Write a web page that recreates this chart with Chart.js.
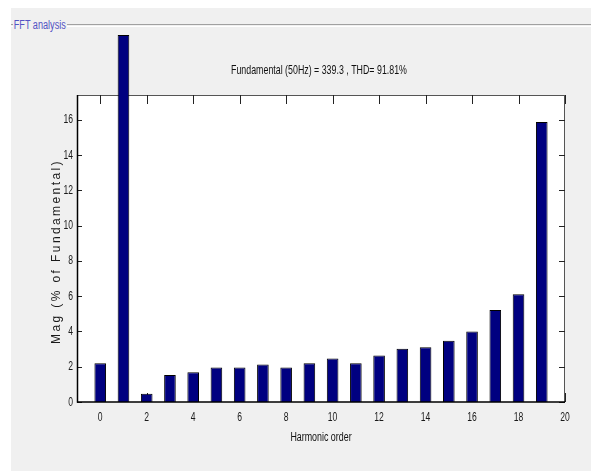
<!DOCTYPE html>
<html>
<head>
<meta charset="utf-8">
<script src="https://cdn.jsdelivr.net/npm/chart.js@4.4.1/dist/chart.umd.min.js"></script>
<style>
  html, body { margin: 0; padding: 0; background: #fff; }
  #wrap { position: relative; width: 591px; height: 471px; overflow: hidden; }
  #panel { position: absolute; left: 11px; top: 8px; width: 580px; height: 463px; background: #f0f0f0; }
  #rule { position: absolute; left: 11px; top: 24px; width: 580px; height: 1px; border-top: 1px solid #a0a0a0; border-bottom: 1px solid #fff; }
  #legend { position: absolute; left: 13px; top: 18px; padding: 0 2px 0 1px; background: #f0f0f0; color: #5252c4;
            font: 12px 'Liberation Sans', Arial, sans-serif; line-height: 14px;
            transform: scaleX(0.76); transform-origin: left center; }
  #c { position: absolute; left: 0; top: 0; }
</style>
</head>
<body>
<div id="wrap">
  <div id="panel"></div>
  <div id="rule"></div>
  <div id="legend">FFT analysis</div>
  <canvas id="c" width="591" height="471"></canvas>
</div>
<script>
// harmonic order and magnitude (% of fundamental)
const harmonics = [0, 1, 2, 3, 4, 5, 6, 7, 8, 9, 10, 11, 12, 13, 14, 15, 16, 17, 18, 19];
const magnitude = [2.19, 20.8, 0.47, 1.53, 1.68, 1.96, 1.96, 2.13, 1.96, 2.19,
                   2.47, 2.19, 2.64, 3.02, 3.10, 3.47, 3.99, 5.21, 6.10, 15.87];
const xTicks = [0, 2, 4, 6, 8, 10, 12, 14, 16, 18, 20];
const yTicks = [0, 2, 4, 6, 8, 10, 12, 14, 16];
const titleText = 'Fundamental (50Hz) = 339.3 , THD= 91.81%';
const xLabel = 'Harmonic order';
const yLabel = 'Mag (% of Fundamental)';

const sans = "'Liberation Sans', Arial, sans-serif";

// no narrow font installed, so squeeze regular text sideways
function narrowText(ctx, text, x, y, sx, align) {
    ctx.save();
    ctx.translate(x, y);
    ctx.scale(sx, 1);
    ctx.textAlign = align;
    ctx.fillText(text, 0, 0);
    ctx.restore();
}

// white axes box, frame, inward tick marks and labels like matlab
const axesBox = {
    id: 'axesBox',
    beforeDraw(chart) {
        const a = chart.chartArea, ctx = chart.ctx;
        ctx.save();
        ctx.fillStyle = '#fff';
        ctx.fillRect(a.left, a.top, a.right - a.left, a.bottom - a.top);
        ctx.restore();
    },
    beforeDatasetsDraw(chart) {
        const a = chart.chartArea, ctx = chart.ctx;
        const xs = chart.scales.x, ys = chart.scales.y;
        ctx.save();
        ctx.lineWidth = 1;
        ctx.strokeStyle = '#555';
        ctx.beginPath();
        ctx.moveTo(a.left, a.top + 0.5); ctx.lineTo(a.right, a.top + 0.5);
        ctx.moveTo(a.right - 0.5, a.top); ctx.lineTo(a.right - 0.5, a.bottom);
        ctx.stroke();
        ctx.strokeStyle = '#222';
        xs.ticks.forEach(t => {
            const px = Math.round(xs.getPixelForValue(t.value)) + 0.5;
            ctx.beginPath();
            ctx.moveTo(px, a.bottom); ctx.lineTo(px, a.bottom - 9);
            ctx.moveTo(px, a.top); ctx.lineTo(px, a.top + 9);
            ctx.stroke();
        });
        ys.ticks.forEach(t => {
            const py = Math.round(ys.getPixelForValue(t.value)) + 0.5;
            ctx.beginPath();
            ctx.moveTo(a.left, py); ctx.lineTo(a.left + 5, py);
            ctx.moveTo(a.right, py); ctx.lineTo(a.right - 6, py);
            ctx.stroke();
        });
        ctx.restore();
    },
    afterDatasetsDraw(chart) {
        const a = chart.chartArea, ctx = chart.ctx;
        ctx.save();
        ctx.lineWidth = 1.5;
        ctx.strokeStyle = '#000';
        ctx.beginPath();
        ctx.moveTo(a.left + 0.5, a.top); ctx.lineTo(a.left + 0.5, a.bottom);
        ctx.lineTo(a.right, a.bottom);
        ctx.stroke();
        ctx.restore();
    },
    afterDraw(chart) {
        const a = chart.chartArea, ctx = chart.ctx;
        const xs = chart.scales.x, ys = chart.scales.y;
        const cx = (a.left + a.right) / 2;
        ctx.save();
        ctx.fillStyle = '#1a1a1a';
        ctx.textBaseline = 'middle';
        ctx.font = '13px ' + sans;
        xs.ticks.forEach(t => narrowText(ctx, String(t.value), xs.getPixelForValue(t.value), a.bottom + 15, 0.66, 'center'));
        ys.ticks.forEach(t => narrowText(ctx, String(t.value), a.left - 4, ys.getPixelForValue(t.value), 0.66, 'right'));
        ctx.font = '13px ' + sans;
        ctx.fillStyle = '#111';
        narrowText(ctx, titleText, cx - 2, a.top - 25, 0.68, 'center');
        ctx.font = '12px ' + sans;
        narrowText(ctx, xLabel, cx, a.bottom + 36, 0.74, 'center');
        ctx.translate(57, (a.top + a.bottom) / 2 + 3);
        ctx.rotate(-Math.PI / 2);
        ctx.textAlign = 'center';
        ctx.font = '12px ' + sans;
        ctx.letterSpacing = '2.4px';
        ctx.fillStyle = '#1a1a1a';
        ctx.fillText(yLabel, 0, 0);
        ctx.restore();
    }
};

new Chart(document.getElementById('c'), {
    type: 'bar',
    data: {
        datasets: [{
            data: harmonics.map((h, i) => ({ x: h, y: magnitude[i] })),
            backgroundColor: '#000080',
            borderColor: '#000',
            borderWidth: 1,
            categoryPercentage: 1,
            barPercentage: 0.5,
            clip: false
        }]
    },
    options: {
        responsive: false,
        devicePixelRatio: 1,
        animation: false,
        layout: { padding: { top: 95, right: 26, left: 0, bottom: 0 } },
        plugins: {
            legend: { display: false },
            tooltip: { enabled: false }
        },
        scales: {
            x: {
                type: 'linear',
                offset: false,
                min: -1,
                max: 20,
                afterFit: s => { s.height = 69; },
                afterBuildTicks: s => { s.ticks = xTicks.map(v => ({ value: v })); },
                grid: { display: false, drawTicks: false },
                border: { display: false },
                ticks: { display: false }
            },
            y: {
                min: 0,
                max: 17.4,
                afterFit: s => { s.width = 77; },
                afterBuildTicks: s => { s.ticks = yTicks.map(v => ({ value: v })); },
                grid: { display: false, drawTicks: false },
                border: { display: false },
                ticks: { display: false }
            }
        }
    },
    plugins: [axesBox]
});
</script>
</body>
</html>
